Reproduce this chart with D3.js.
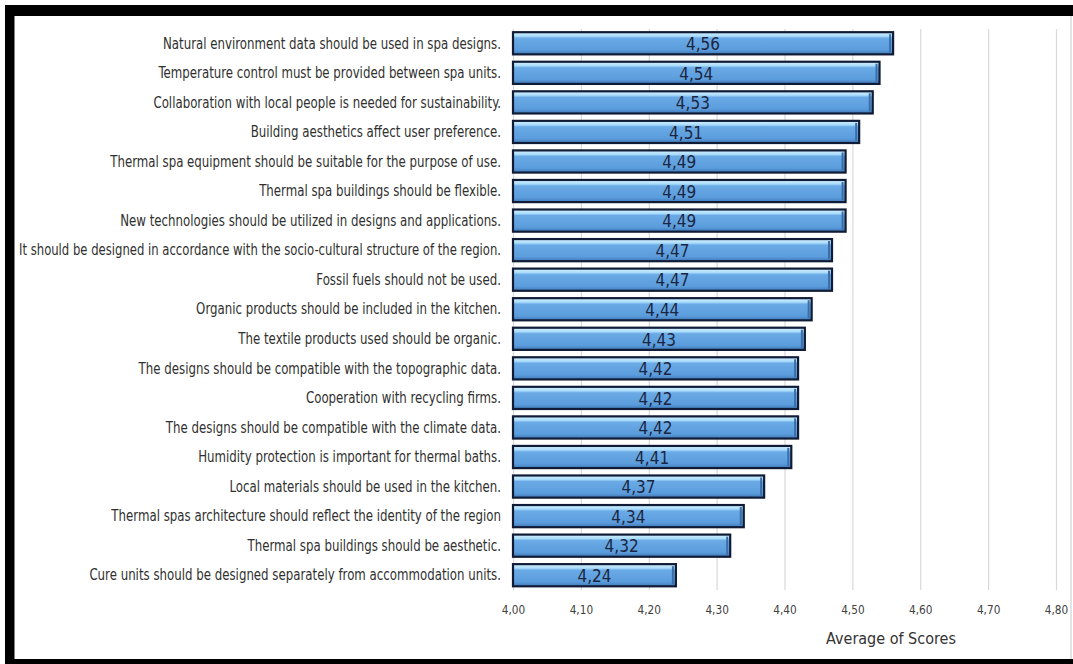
<!DOCTYPE html>
<html><head><meta charset="utf-8">
<script src="https://cdn.jsdelivr.net/npm/d3@7"></script>
<style>
html,body{margin:0;padding:0;background:#fff;}
svg{display:block;}
</style></head>
<body>
<script>
const categories = [
  "Natural environment data should be used in spa designs.",
  "Temperature control must be provided between spa units.",
  "Collaboration with local people is needed for sustainability.",
  "Building aesthetics affect user preference.",
  "Thermal spa equipment should be suitable for the purpose of use.",
  "Thermal spa buildings should be flexible.",
  "New technologies should be utilized in designs and applications.",
  "It should be designed in accordance with the socio-cultural structure of the region.",
  "Fossil fuels should not be used.",
  "Organic products should be included in the kitchen.",
  "The textile products used should be organic.",
  "The designs should be compatible with the topographic data.",
  "Cooperation with recycling firms.",
  "The designs should be compatible with the climate data.",
  "Humidity protection is important for thermal baths.",
  "Local materials should be used in the kitchen.",
  "Thermal spas architecture should reflect the identity of the region",
  "Thermal spa buildings should be aesthetic.",
  "Cure units should be designed separately from accommodation units."
];
const scores = [4.56,4.54,4.53,4.51,4.49,4.49,4.49,4.47,4.47,4.44,4.43,4.42,4.42,4.42,4.41,4.37,4.34,4.32,4.24];
const tickValues = [4.00,4.10,4.20,4.30,4.40,4.50,4.60,4.70,4.80];
const axisTitle = "Average of Scores";

const W = 1073, H = 664;
const svg = d3.select("body").append("svg").attr("width", W).attr("height", H);
const FONT = "'DejaVu Sans Condensed','DejaVu Sans',sans-serif";

const defs = svg.append("defs");
const grad = defs.append("linearGradient").attr("id","barGrad").attr("x1",0).attr("y1",0).attr("x2",0).attr("y2",1);
grad.append("stop").attr("offset","0%").attr("stop-color","#d6f1ff");
grad.append("stop").attr("offset","18%").attr("stop-color","#aadcfb");
grad.append("stop").attr("offset","27%").attr("stop-color","#6aaae6");
grad.append("stop").attr("offset","80%").attr("stop-color","#5b9cdc");
grad.append("stop").attr("offset","100%").attr("stop-color","#3f78b8");

const x = d3.scaleLinear().domain([4.0, 4.8]).range([513, 1056]);
const y = d3.scaleBand().domain(categories).range([28.5, 590]).paddingInner(0.25).paddingOuter(0.125);

const fmt = v => d3.format(".2f")(v).replace(".", ",");

// gridlines
const grid = svg.append("g").attr("transform","translate(0,590)")
  .call(d3.axisBottom(x).tickValues(tickValues).tickSize(-(590 - 29)).tickFormat(""));
grid.select(".domain").remove();
grid.selectAll(".tick line").attr("stroke","#d9d9d9").attr("stroke-width",1.2);

// tick labels
const ax = svg.append("g").attr("transform","translate(0,602)")
  .call(d3.axisBottom(x).tickValues(tickValues).tickSize(0).tickFormat(fmt));
ax.select(".domain").remove();
ax.selectAll("text").attr("fill","#404040")
  .style("font-family",FONT)
  .style("font-size","13px").attr("dy","0.7em")
  .attr("transform","scale(0.9,1)");

// bars
const bars = svg.append("g");
bars.selectAll("rect").data(categories).join("rect")
  .attr("x", x(4.0))
  .attr("y", d => y(d))
  .attr("width", (d,i) => x(scores[i]) - x(4.0))
  .attr("height", y.bandwidth())
  .attr("fill","url(#barGrad)")
  .attr("stroke","#101c36").attr("stroke-width",2.2);

// bevel on right edge
bars.selectAll("line.bev").data(categories).join("line").attr("class","bev")
  .attr("x1", (d,i) => x(scores[i]) - 3).attr("x2", (d,i) => x(scores[i]) - 3)
  .attr("y1", d => y(d) + 2).attr("y2", d => y(d) + y.bandwidth() - 2)
  .attr("stroke","#3a6ea8").attr("stroke-width",2);

// value labels
svg.append("g").selectAll("text").data(categories).join("text")
  .attr("x", (d,i) => (x(4.0) + x(scores[i])) / 2)
  .attr("y", d => y(d) + y.bandwidth()/2)
  .attr("dy","0.4em")
  .attr("text-anchor","middle")
  .attr("fill","#1c2640")
  .style("font-family",FONT)
  .style("font-size","17px")
  .text((d,i) => fmt(scores[i]));

// category labels (horizontally condensed)
const SX = 0.875, maxW = 482;
svg.append("g").attr("transform",`translate(501,0) scale(${SX},1)`)
  .selectAll("text").data(categories).join("text")
  .attr("x", 0)
  .attr("y", d => y(d) + y.bandwidth()/2)
  .attr("dy","0.35em")
  .attr("text-anchor","end")
  .attr("fill","#303030")
  .style("font-family",FONT)
  .style("font-size","15px")
  .text(d => d)
  .each(function(){
    const w = this.getComputedTextLength() * SX;
    if (w > maxW) {
      d3.select(this).attr("textLength", maxW / SX).attr("lengthAdjust","spacingAndGlyphs");
    }
  });

// axis title
svg.append("text").attr("x", 891).attr("y", 638).attr("dy","0.35em")
  .attr("text-anchor","middle").attr("fill","#333")
  .style("font-family",FONT)
  .style("font-size","16px").text(axisTitle);

// frame
svg.append("rect").attr("x",5).attr("y",5).attr("width",W-5).attr("height",11).attr("fill","#000");
svg.append("rect").attr("x",5).attr("y",5).attr("width",9.5).attr("height",H-5).attr("fill","#000");
svg.append("rect").attr("x",5).attr("y",659).attr("width",W-5).attr("height",5).attr("fill","#000");
svg.append("line").attr("x1",1071).attr("x2",1071).attr("y1",16).attr("y2",659).attr("stroke","#c8c8c8").attr("stroke-width",1);
</script>
</body></html>
